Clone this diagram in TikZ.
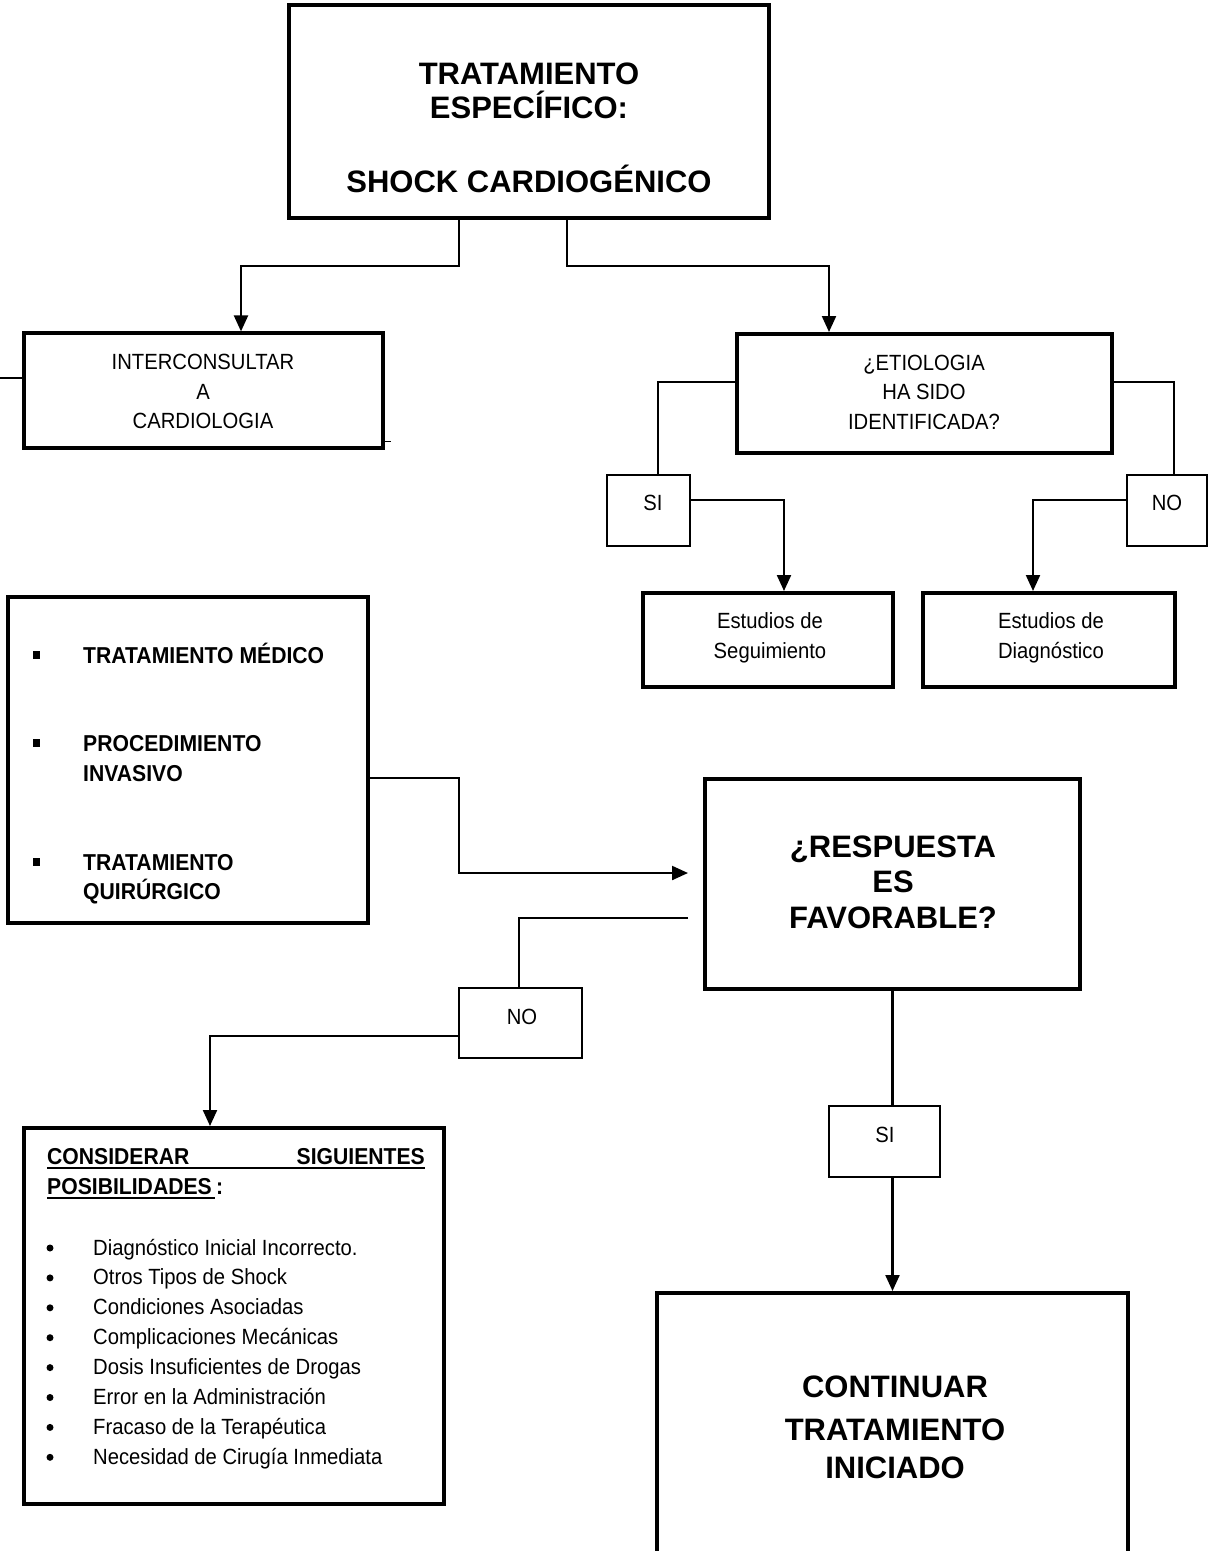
\documentclass[tikz,border=0pt]{standalone}
\usepackage{fontspec}
\setmainfont{Liberation Sans}
\newfontfamily\nar{Liberation Sans}[FakeStretch=0.92]
\usetikzlibrary{arrows.meta,calc}
\begin{document}
\begin{tikzpicture}[x=1pt,y=-1pt,
  box/.style={draw,line width=4pt,inner sep=0,rectangle},
  sbox/.style={draw,line width=2.2pt,inner sep=0,rectangle},
  conn/.style={line width=2.2pt},
  arr/.style={line width=2.2pt,-{Triangle[length=16pt,width=14pt]}},
  ttl/.style={font=\bfseries\fontsize{31}{35.5}\selectfont,align=center,inner sep=0},
  txt/.style={font=\nar\fontsize{22}{29.5}\selectfont,align=center,inner sep=0},
  btxt/.style={font=\nar\bfseries\fontsize{23}{30}\selectfont,inner sep=0},
  ltxt/.style={font=\nar\fontsize{22}{30}\selectfont,inner sep=0},
  dot/.style={fill=black,draw=none,circle,minimum size=7pt,inner sep=0},
  sq/.style={fill=black,draw=none,minimum width=7pt,minimum height=8.5pt,inner sep=0}]
\useasboundingbox (0,0) rectangle (1213,1551);
% boxes
\node[box,minimum width=480,minimum height=213] (top) at (529,111.5) {};
\node[box,line width=3.2pt,minimum width=359,minimum height=115] (inter) at (203.5,390.5) {};
\node[box,minimum width=375,minimum height=119] (etio) at (924.5,393.5) {};
\node[sbox,minimum width=83,minimum height=71] (si1) at (648.5,510.5) {};
\node[sbox,minimum width=80,minimum height=71] (no1) at (1167,510.5) {};
\node[box,minimum width=250,minimum height=94] (seg) at (768,640) {};
\node[box,minimum width=252,minimum height=94] (diag) at (1049,640) {};
\node[box,minimum width=360,minimum height=326] (list) at (188,760) {};
\node[box,minimum width=375,minimum height=210] (resp) at (892.5,884) {};
\node[sbox,minimum width=123,minimum height=70] (no2) at (520.5,1023) {};
\node[sbox,minimum width=111,minimum height=71] (si2) at (884.5,1141.5) {};
\node[box,minimum width=420,minimum height=376] (cons) at (234,1316) {};
\node[box,minimum width=471,minimum height=262] (cont) at (892.5,1424) {};
% texts
\node[ttl,font=\bfseries\fontsize{31}{34}\selectfont] (toptxt) at (529,128) {TRATAMIENTO\\ESPECÍFICO:\\[40pt]SHOCK CARDIOGÉNICO};
\node[txt] (intertxt) at (203,391.5) {INTERCONSULTAR\\A\\CARDIOLOGIA};
\node[txt] (etiotxt) at (924,392) {¿ETIOLOGIA\\HA SIDO\\IDENTIFICADA?};
\node[txt] (si1txt) at (653,503) {SI};
\node[txt] (no1txt) at (1167,503) {NO};
\node[txt,font=\nar\fontsize{22}{30}\selectfont] (segtxt) at (770,637.5) {Estudios de\\Seguimiento};
\node[txt,font=\nar\fontsize{22}{30}\selectfont] (diagtxt) at (1051,637.5) {Estudios de\\Diagnóstico};
\node[ttl] (resptxt) at (893,882) {¿RESPUESTA\\ES\\FAVORABLE?};
\node[txt] (no2txt) at (522,1017) {NO};
\node[txt] (si2txt) at (885,1135) {SI};
\node[ttl,font=\bfseries\fontsize{31}{38}\selectfont] (conttxt) at (895,1427) {CONTINUAR\\[5pt]TRATAMIENTO\\INICIADO};
% list box
\node[sq] (b1) at (36,655) {};
\node[sq] (b2) at (36,743) {};
\node[sq] (b3) at (36,862) {};
\node[btxt,anchor=base west] (l1) at (83,663) {TRATAMIENTO MÉDICO};
\node[btxt,anchor=base west] (l2a) at (83,751) {PROCEDIMIENTO};
\node[btxt,anchor=base west] (l2b) at (83,781) {INVASIVO};
\node[btxt,anchor=base west] (l3a) at (83,870) {TRATAMIENTO};
\node[btxt,anchor=base west] (l3b) at (83,899) {QUIRÚRGICO};
% considerar box
\node[btxt,anchor=base west] (h1a) at (47,1164) {CONSIDERAR};
\node[btxt,anchor=base east] (h1b) at (425,1164) {SIGUIENTES};
\node[btxt,anchor=base west] (h2) at (47,1194) {POSIBILIDADES};
\node[btxt,anchor=base west] (h2c) at (216,1194) {:};
\draw[line width=2pt] ([yshift=-3.5pt]h1a.base west) -- ([yshift=-3.5pt]h1b.base east);
\draw[line width=2pt] ([yshift=-3.5pt]h2.base west) -- ([yshift=-3.5pt,xshift=3pt]h2.base east);
\foreach \t [count=\i from 0] in {Diagnóstico Inicial Incorrecto.,Otros Tipos de Shock,Condiciones Asociadas,Complicaciones Mecánicas,Dosis Insuficientes de Drogas,Error en la Administración,Fracaso de la Terapéutica,Necesidad de Cirugía Inmediata}{
  \node[dot] (d\i) at (50,{1248+29.9*\i}) {};
  \node[ltxt,anchor=base west] (c\i) at (93,{1255+29.9*\i}) {\t};
}
% connectors
\coordinate (bend) at (459,873);
\draw[arr] ([xshift=-70pt]top.south) -- ++(0,46) -| ([xshift=37.5pt]inter.north);
\draw[arr] ([xshift=38pt]top.south) -- ++(0,46) -| ([xshift=-95.5pt]etio.north);
\draw[conn] ([yshift=11.5pt]etio.west) -| ([xshift=9.5pt]si1.north);
\draw[conn] ([yshift=11.5pt]etio.east) -| ([xshift=7pt]no1.north);
\draw[arr] ([yshift=10.5pt]si1.east) -| ([xshift=16pt]seg.north);
\draw[arr] ([yshift=10.5pt]no1.west) -| ([xshift=-16pt]diag.north);
\draw[arr,shorten >=15pt] ([yshift=-18pt]list.east) -| (bend) -- (bend -| resp.west);
\draw[conn,shorten <=15pt] ([yshift=-34pt]resp.west) -| ([xshift=-1.5pt]no2.north);
\draw[arr] ([yshift=-13pt]no2.west) -| ([xshift=-24pt]cons.north);
\draw[conn] (resp.south) -- (resp.south |- si2.north);
\draw[arr] (resp.south |- si2.south) -- (cont.north);
\coordinate (lstub) at (0,378);
\draw[conn] (lstub) -- (lstub -| inter.west);
\draw[line width=1.5pt] ([yshift=8pt]inter.south east) -- ++(6,0);
\end{tikzpicture}
\end{document}
